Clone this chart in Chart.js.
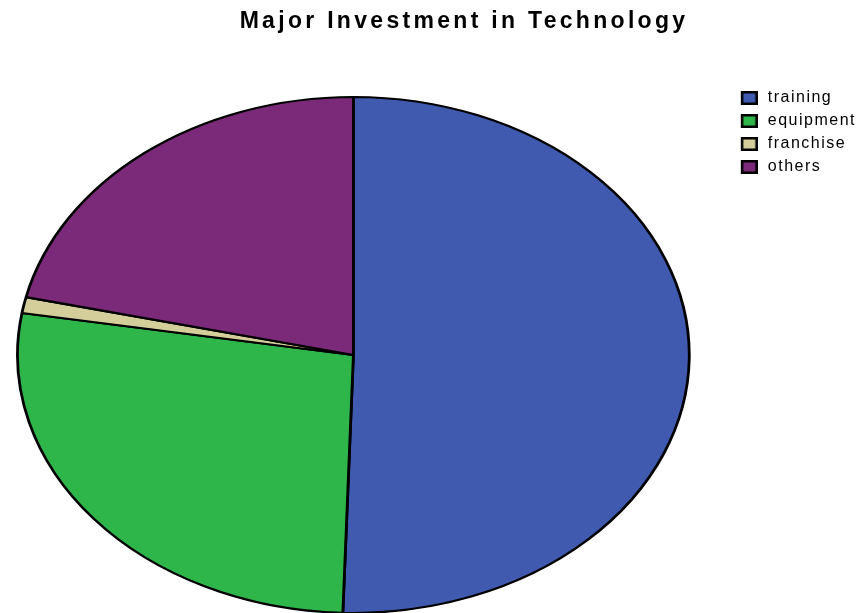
<!DOCTYPE html>
<html>
<head>
<meta charset="utf-8">
<script src="https://cdn.jsdelivr.net/npm/chart.js@4.4.1/dist/chart.umd.min.js"></script>
<style>
  html, body { margin: 0; padding: 0; background: #ffffff; }
  canvas { display: block; }
</style>
</head>
<body>
<canvas id="chart" width="866" height="613"></canvas>
<script>
// Survey data: share of major technology investment by category (%)
const categories = ['training', 'equipment', 'franchise', 'others'];
const shares = [50.5, 27.1, 1.0, 21.4];
const sliceColors = ['#3F5AAE', '#2EB64A', '#D4CF9A', '#7B2A7A'];
const chartTitle = 'Major Investment in Technology';

const FONT = "'Liberation Sans', Arial, Helvetica, sans-serif";

// Outlined colour square used as the legend marker (sits at the right of its image)
function swatch(color) {
  const c = document.createElement('canvas');
  c.width = 25;
  c.height = 14;
  const g = c.getContext('2d');
  const x0 = 8, w = 17, h = 14;
  g.fillStyle = color;
  g.fillRect(x0, 0, w, h);
  g.strokeStyle = '#000000';
  g.lineWidth = 2.5;
  g.strokeRect(x0 + 1.25, 1.25, w - 2.5, h - 2.5);
  return c;
}

// Draw the pie as an ellipse filling the chart area minus an inset
const ellipsePie = {
  id: 'ellipsePie',
  beforeDatasetsDraw(chart, args, opts) {
    const arc = chart.getDatasetMeta(0).data[0];
    const area = chart.chartArea;
    const ins = opts.inset;
    const x0 = area.left + ins.left, x1 = area.right - ins.right;
    const y0 = area.top + ins.top, y1 = area.bottom - ins.bottom;
    const r = arc.outerRadius;
    const ctx = chart.ctx;
    ctx.save();
    ctx.translate((x0 + x1) / 2, (y0 + y1) / 2);
    ctx.scale((x1 - x0) / (2 * r), (y1 - y0) / (2 * r));
    ctx.translate(-arc.x, -arc.y);
  },
  afterDatasetsDraw(chart) {
    chart.ctx.restore();
  }
};

// Letter spacing for the title and legend text
const textSpacing = {
  id: 'textSpacing',
  afterInit(chart, args, opts) {
    const ctx = chart.ctx;
    const spaced = (fn, spacing, dx) => function (...a) {
      ctx.save();
      ctx.letterSpacing = spacing + 'px';
      if (dx) ctx.translate(dx, 0);
      const r = fn.apply(this, a);
      ctx.restore();
      return r;
    };
    const legend = chart.legend;
    legend.fit = spaced(legend.fit, opts.legend, 0);
    legend.draw = spaced(legend.draw, opts.legend, 0);
    const title = chart.titleBlock;
    title.draw = spaced(title.draw, opts.title, opts.titleShift);
  }
};

const baseLabels = (Chart.overrides.pie || Chart.overrides.doughnut).plugins.legend.labels.generateLabels;

new Chart(document.getElementById('chart').getContext('2d'), {
  type: 'pie',
  data: {
    labels: categories,
    datasets: [{
      data: shares,
      backgroundColor: sliceColors,
      borderColor: '#000000',
      borderWidth: 2.2
    }]
  },
  options: {
    responsive: false,
    animation: false,
    events: [],
    layout: {
      autoPadding: false,
      padding: 0
    },
    plugins: {
      title: {
        display: true,
        text: chartTitle,
        color: '#000000',
        font: { family: FONT, size: 23, weight: 'bold', lineHeight: 1.2 },
        padding: { top: 7.5, bottom: 47.9 }
      },
      legend: {
        position: 'right',
        align: 'start',
        fullSize: false,
        labels: {
          color: '#000000',
          font: { family: FONT, size: 16 },
          padding: 7,
          usePointStyle: true,
          pointStyleWidth: 29,
          boxWidth: 29,
          boxHeight: 16,
          generateLabels(chart) {
            return baseLabels(chart).map(item => ({ ...item, pointStyle: swatch(item.fillStyle) }));
          }
        }
      },
      tooltip: { enabled: false },
      ellipsePie: { inset: { left: 17.5, right: 34.5, top: 14, bottom: 0 } },
      textSpacing: { legend: 1.5, title: 3.3, titleShift: 31 }
    }
  },
  plugins: [ellipsePie, textSpacing]
});
</script>
</body>
</html>
